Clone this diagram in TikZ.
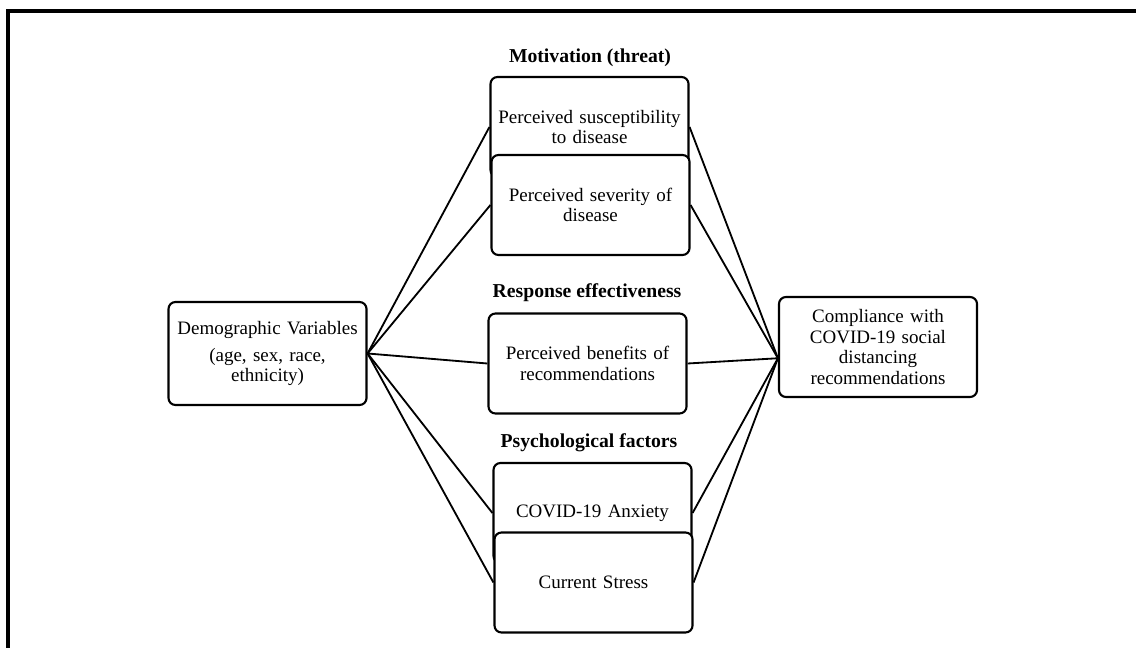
\documentclass[tikz,border=0pt]{standalone}
\usepackage{fontspec}
\setmainfont{Liberation Serif}
\tikzset{
  box/.style={draw,line width=1.5pt,rounded corners=5pt,fill=white,
    minimum width=4.95cm,minimum height=2.5cm,text width=4.9cm,
    align=center,inner sep=0pt,font=\fontsize{13.5}{14.5}\selectfont},
  head/.style={font=\fontsize{14}{16}\selectfont\bfseries},
  link/.style={line width=1.3pt}
}

\begin{document}
\begin{tikzpicture}[x=0.025cm,y=-0.025cm]
        \useasboundingbox (0,0) rectangle (1136,648);
        \draw[line width=2.8pt] (8,648) -- (8,11) -- (1136,11);

        \node[head] (hmot) at (590,58) {Motivation (threat)};
        \node[head] (hres) at (587,293) {Response effectiveness};
        \node[head] (hpsy) at (589,443) {Psychological factors};

        \node[box,minimum height=2.575cm] (demo) at (267.5,353.5)
          {Demographic Variables\\[5pt](age, sex, race,\\ ethnicity)};
        \node[box] (susc) at (589.5,127) {Perceived susceptibility\\ to disease};
        \node[box] (sev) at (590.5,205) {Perceived severity of\\ disease};
        \node[box] (ben) at (587.5,363.5) {Perceived benefits of\\ recommendations};
        \node[box] (anx) at (592.5,513) {COVID-19 Anxiety};
        \node[box] (str) at (593.5,582.5) {Current Stress};
        \node[box] (comp) at (878,347)
          {Compliance with\\ COVID-19 social\\ distancing\\ recommendations};

        \coordinate (cj) at ([yshift=-8pt]comp.west);
        \foreach \b in {susc,sev,ben,anx,str} {
          \draw[link] (demo.east) -- (\b.west);
          \draw[link] (\b.east) -- (cj);
        }
      \end{tikzpicture}
\end{document}
